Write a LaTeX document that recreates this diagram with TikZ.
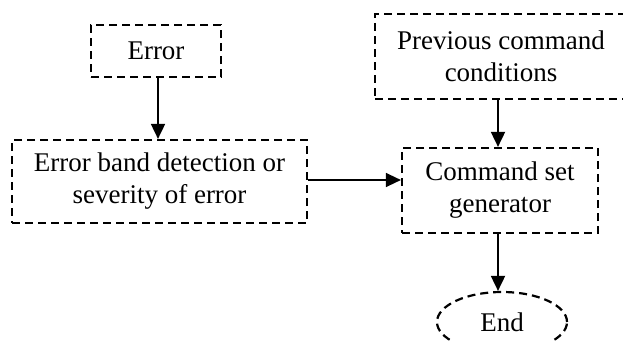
\documentclass[tikz,border=0pt]{standalone}
\usepackage{fontspec}
\setmainfont{Liberation Serif}
\usetikzlibrary{arrows.meta,shapes.geometric}
\tikzset{
  dbox/.style={draw, line width=2.2pt, dash pattern=on 8pt off 5pt, rectangle, align=center, inner sep=0pt,
    font=\fontsize{27}{32}\selectfont},
  dell/.style={draw, line width=2.2pt, dash pattern=on 8pt off 5pt, ellipse, inner sep=0pt,
    font=\fontsize{27}{32}\selectfont},
  arr/.style={line width=1.8pt, -{Triangle[length=15pt,width=14pt]}}
}
\begin{document}
\begin{tikzpicture}[x=1pt,y=-1pt]
\useasboundingbox (0,0) rectangle (623,340);
\clip (0,0) rectangle (623,340);
\node[dbox, minimum width=130pt, minimum height=52pt] (err) at (156,51) {Error};
\node[dbox, minimum width=295pt, minimum height=83pt] (band) at (159.5,181.5) {Error band detection or\\severity of error};
\node[dbox, minimum width=252pt, minimum height=85pt] (prev) at (501,56.5) {Previous command\\conditions};
\node[dbox, minimum width=196pt, minimum height=85pt] (cmd) at (500,190.5) {Command set\\generator};
\node[dell, minimum width=130pt, minimum height=60pt] (end) at (502,322) {End};
\draw[arr] ([xshift=2pt]err.south) -- ([xshift=2pt]err.south |- band.north);
\draw[arr] ([xshift=-3pt]prev.south) -- ([xshift=-3pt]prev.south |- cmd.north);
\draw[arr, line width=1.4pt] ([yshift=1.5pt]band.east) -- ([yshift=1.5pt]band.east -| cmd.west);
\draw[arr] ([xshift=-2pt]cmd.south) -- ([xshift=-2pt]cmd.south |- end.north);
\end{tikzpicture}
\end{document}
